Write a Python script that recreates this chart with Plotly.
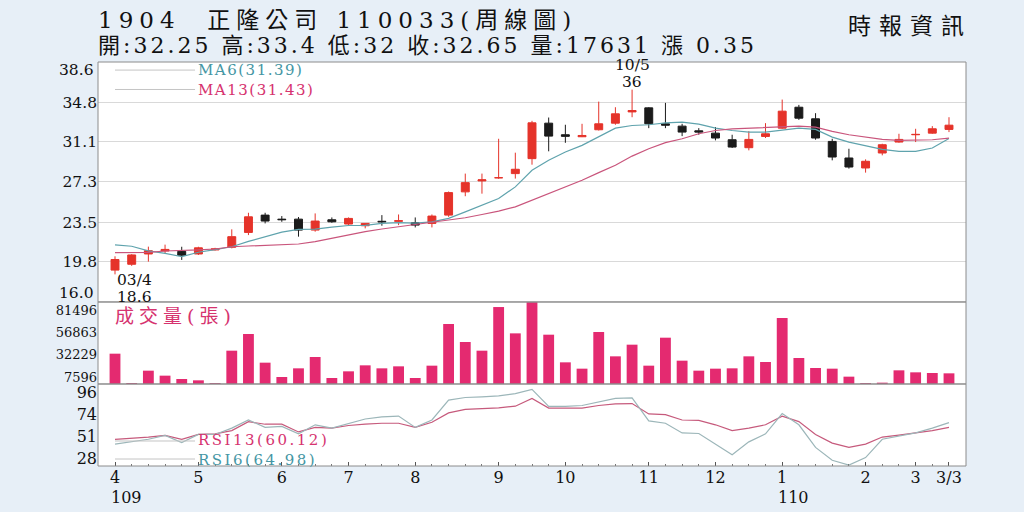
import plotly.graph_objects as go

# weekly candles, 109/03 .. 110/03/03 (index = week number)
week = list(range(51))

opens = [19.0, 19.55, 20.52, 20.8, 20.77, 20.52, 20.9, 21.15, 22.55, 24.18,
         23.8, 23.8, 22.77, 23.74, 23.34, 23.18, 23.6, 23.6, 23.46, 23.4,
         24.18, 26.37, 27.4, 27.7, 28.09, 29.5, 32.84, 31.75, 31.56, 32.22,
         32.84, 33.9, 34.28, 32.78, 32.56, 32.12, 31.9, 31.28, 30.53, 31.59,
         32.37, 34.34, 33.25, 31.12, 29.56, 28.62, 30.03, 31.06, 31.75, 31.9,
         32.25]
highs = [20.3, 20.5, 21.21, 21.4, 21.2, 21.2, 21.1, 22.84, 24.4, 24.4,
         24.09, 24.0, 24.34, 23.96, 23.96, 23.4, 24.18, 24.24, 23.96, 24.24,
         26.4, 28.09, 28.09, 31.37, 30.06, 33.06, 33.37, 32.69, 32.78, 34.87,
         34.34, 36.0, 34.34, 34.75, 32.78, 32.37, 32.47, 31.75, 32.09, 32.84,
         35.06, 34.56, 33.78, 31.37, 30.43, 29.43, 30.9, 31.84, 32.31, 32.56,
         33.4]
lows = [18.6, 19.4, 19.8, 20.6, 19.96, 20.43, 20.85, 21.05, 22.3, 23.4,
        23.55, 22.15, 22.62, 23.46, 23.15, 22.93, 23.18, 23.24, 23.02, 23.02,
        24.02, 25.96, 26.2, 27.6, 27.62, 28.93, 30.19, 30.99, 31.53, 32.15,
        32.69, 33.4, 32.37, 32.37, 31.62, 31.75, 31.22, 30.5, 30.28, 31.44,
        32.31, 33.15, 31.28, 29.34, 28.56, 28.18, 29.81, 31.0, 31.06, 31.84,
        32.0]
closes = [20.0, 20.43, 20.83, 20.95, 20.4, 21.1, 21.0, 22.15, 24.02, 23.62,
          23.75, 22.77, 23.62, 23.55, 23.87, 23.4, 23.55, 23.65, 23.24, 24.09,
          26.3, 27.24, 27.5, 27.7, 28.5, 32.87, 31.62, 31.6, 31.68, 32.78,
          33.72, 34.03, 32.78, 32.65, 32.0, 32.0, 31.44, 30.59, 31.31, 31.84,
          33.97, 33.31, 31.44, 29.65, 28.71, 29.25, 30.81, 31.31, 31.78, 32.31,
          32.65]

ma6 = [21.37, 21.25, 20.82, 20.58, 20.27, 20.68, 20.93, 21.2, 21.7, 22.15,
       22.57, 22.84, 22.86, 23.05, 23.2, 23.22, 23.4, 23.48, 23.42, 23.55,
       23.87, 24.49, 25.12, 25.74, 26.84, 28.4, 29.34, 30.12, 30.75, 31.53,
       32.37, 32.62, 32.69, 32.87, 32.94, 32.75, 32.37, 32.15, 32.0, 32.0,
       32.15, 32.37, 32.25, 31.53, 31.06, 30.75, 30.37, 30.18, 30.18, 30.5,
       31.39]
ma13 = [20.65, 20.66, 20.68, 20.8, 20.82, 20.9, 20.99, 21.2, 21.27, 21.33,
        21.4, 21.46, 21.68, 21.99, 22.37, 22.62, 22.87, 23.08, 23.24, 23.5,
        23.71, 23.93, 24.24, 24.56, 24.96, 25.59, 26.21, 26.84, 27.46, 28.18,
        28.87, 29.74, 30.43, 31.0, 31.37, 31.84, 32.15, 32.31, 32.37, 32.37,
        32.47, 32.56, 32.47, 32.06, 31.75, 31.53, 31.31, 31.22, 31.22, 31.28,
        31.43]

volume = [33488, 1104, 14720, 9200, 5520, 4048, 736, 36800, 55200, 23552,
          7728, 17296, 29808, 6624, 13984, 20608, 17296, 19504, 6624, 20240,
          66240, 46368, 36800, 85008, 55936, 90528, 54464, 23920, 16928, 57408,
          30544, 43424, 20240, 51152, 25760, 14720, 16928, 17296, 30544, 24288,
          72864, 28704, 17664, 16928, 8096, 1104, 1472, 15088, 12880, 12144,
          11776]

rsi6 = [42.7, 45, 47.7, 51.7, 44.3, 52.7, 52.7, 59.3, 67.7, 60,
        61, 53.3, 62.7, 59.3, 64.3, 68.7, 71, 71.7, 60, 67.7,
        88.3, 91, 91.7, 92.7, 95, 99.5, 81.7, 81.7, 82.7, 86.7,
        90, 90.7, 66.7, 64.3, 54.3, 53.7, 42.7, 31.7, 45, 53.3,
        74.3, 62.7, 39.3, 26, 21, 28.7, 47.7, 51, 54.3, 59.3,
        64.98]
rsi13 = [47.7, 48.7, 50, 51.7, 47.7, 52.7, 53.3, 56.7, 66, 63.3,
         63.3, 55.3, 60, 59.3, 62, 63.3, 64.3, 64.3, 60, 65.3,
         75, 78.7, 79.3, 80.3, 82, 90, 80, 80, 80, 82.7,
         84.3, 84.7, 74, 73.3, 67.7, 67.3, 62.7, 56.7, 59.3, 62.7,
         71.7, 66, 52.7, 43.7, 39.3, 42.7, 50, 52, 54.3, 56.7,
         60.12]

month_pos = [0, 5, 10, 14, 18, 23, 27, 32, 36, 40, 45, 48, 50]
month_text = ["4", "5", "6", "7", "8", "9", "10", "11", "12", "1", "2", "3", "3/3"]
year_pos = [0, 40]
year_text = ["109", "110"]

price_ticks = [16.0, 19.8, 23.5, 27.3, 31.1, 34.8, 38.6]
vol_ticks = [7596, 32229, 56863, 81496]
rsi_ticks = [28, 51, 74, 96]

RED = "#e5332a"
BLACK = "#1b1b1b"
VOL = "#e42a70"
MA6_C = "#5fa3ad"
MA13_C = "#c9557c"
PINK_TXT = "#d6336f"
TEAL_TXT = "#4596a4"
BG = "#e7eff7"
FRAME = "#8c8c8c"
SERIF = "DejaVu Serif, Noto Sans CJK TC, serif"

fig = go.Figure()

fig.add_trace(go.Candlestick(
    x=week, open=opens, high=highs, low=lows, close=closes,
    increasing=dict(line=dict(color=RED, width=1), fillcolor=RED),
    decreasing=dict(line=dict(color=BLACK, width=1), fillcolor=BLACK),
    whiskerwidth=0, yaxis="y", hoverinfo="skip"))

fig.add_trace(go.Scatter(x=week, y=ma6, mode="lines",
                         line=dict(color=MA6_C, width=1.2), yaxis="y"))
fig.add_trace(go.Scatter(x=week, y=ma13, mode="lines",
                         line=dict(color=MA13_C, width=1.2), yaxis="y"))

fig.add_trace(go.Bar(x=week, y=volume, marker_color=VOL,
                     marker_line_width=0, yaxis="y2"))

fig.add_trace(go.Scatter(x=week, y=rsi13, mode="lines",
                         line=dict(color="#c65a7c", width=1.2), yaxis="y3"))
fig.add_trace(go.Scatter(x=week, y=rsi6, mode="lines",
                         line=dict(color="#9cb6b9", width=1.2), yaxis="y3"))

# price labels at the panel edges are drawn as annotations (shifted inward)
price_text = [("" if v in (price_ticks[0], price_ticks[-1]) else f"{v:.1f}")
              for v in price_ticks]

fig.update_layout(
    width=1024, height=512,
    margin=dict(l=98, r=58, t=62, b=46),
    paper_bgcolor=BG, plot_bgcolor="white",
    showlegend=False, bargap=0.35, boxgap=0.32,
    font=dict(family=SERIF, color="#111111"),
    xaxis=dict(range=[-1.02, 51.02], anchor="y3",
               tickmode="array", tickvals=month_pos, ticktext=month_text,
               ticks="inside", ticklen=4, tickcolor="#555555",
               minor=dict(dtick=1, tick0=0, ticks="inside", ticklen=2,
                          tickcolor="#777777", showgrid=False),
               showgrid=False, zeroline=False, showline=False,
               tickfont=dict(size=16, family=SERIF, color="#111111"),
               rangeslider=dict(visible=False)),
    yaxis=dict(domain=[0.406, 1], range=[16.0, 38.6],
               tickmode="array", tickvals=price_ticks, ticktext=price_text,
               showgrid=True, gridcolor="#d9d9d9", gridwidth=1,
               zeroline=False, ticks="",
               tickfont=dict(size=15.5, family=SERIF, color="#111111")),
    yaxis2=dict(domain=[0.203, 0.406], range=[0, 90600], anchor="x",
                tickmode="array", tickvals=vol_ticks,
                ticktext=[str(v) for v in vol_ticks],
                showgrid=False, zeroline=False, ticks="",
                tickfont=dict(size=13, family=SERIF, color="#111111")),
    yaxis3=dict(domain=[0, 0.203], range=[20, 105], anchor="x",
                tickmode="array", tickvals=rsi_ticks,
                ticktext=[str(v) for v in rsi_ticks],
                showgrid=False, zeroline=False, ticks="",
                tickfont=dict(size=16, family=SERIF, color="#111111")),
)

# panel frames
shapes = []
for ax in ["y", "y2", "y3"]:
    shapes.append(dict(type="rect", xref="x domain", yref=ax + " domain",
                       x0=0, x1=1, y0=0, y1=1,
                       line=dict(color=FRAME, width=1), layer="above"))
# legend stubs
for yy in [0.980, 0.932, 0.0619, 0.0173]:
    shapes.append(dict(type="line", xref="paper", yref="paper",
                       x0=0.0196, x1=0.1118, y0=yy, y1=yy,
                       line=dict(color="#c4c4c4", width=1)))
fig.update_layout(shapes=shapes)

ann = []
ann.append(dict(xref="paper", yref="paper", x=-0.002, y=1.104,
                xanchor="left", yanchor="middle", showarrow=False,
                text='<span style="letter-spacing:6px">1904\u00a0\u00a0正隆公司 110033(周線圖)</span>',
                font=dict(size=23, family=SERIF, color="#111111")))
ann.append(dict(xref="paper", yref="paper", x=-0.002, y=1.040,
                xanchor="left", yanchor="middle", showarrow=False,
                text='<span style="letter-spacing:3px">開:32.25 高:33.4 低:32 收:32.65 量:17631 漲 0.35</span>',
                font=dict(size=22, family=SERIF, color="#111111")))
ann.append(dict(xref="paper", yref="paper", x=1.0, y=1.089,
                xanchor="right", yanchor="middle", showarrow=False, xshift=8,
                text='<span style="letter-spacing:8px">時報資訊</span>',
                font=dict(size=23, family=SERIF, color="#111111")))

# moving-average legend (two coloured lines in one text block)
ann.append(dict(xref="paper", yref="paper", x=0.113, y=0.956,
                xanchor="left", yanchor="middle", align="left", showarrow=False,
                text=(f'<span style="letter-spacing:1.5px;color:{TEAL_TXT}">MA6(31.39)</span><br>'
                      f'<span style="letter-spacing:1.5px;color:{PINK_TXT}">MA13(31.43)</span>'),
                font=dict(size=15, family=SERIF, color=TEAL_TXT)))
ann.append(dict(xref="paper", yref="paper", x=0.113, y=0.0396,
                xanchor="left", yanchor="middle", align="left", showarrow=False,
                text=(f'<span style="letter-spacing:2.5px;color:{PINK_TXT}">RSI13(60.12)</span><br>'
                      f'<span style="letter-spacing:2.5px;color:{TEAL_TXT}">RSI6(64.98)</span>'),
                font=dict(size=15, family=SERIF, color=PINK_TXT)))
ann.append(dict(xref="paper", yref="paper", x=0.017, y=0.371,
                xanchor="left", yanchor="middle", showarrow=False,
                text='<span style="letter-spacing:5px">成交量(張)</span>',
                font=dict(size=19, family=SERIF, color=PINK_TXT)))

# edge price labels
ann.append(dict(xref="paper", yref="paper", x=0, y=0.980, xshift=-2,
                xanchor="right", yanchor="middle", showarrow=False,
                text=f"{price_ticks[-1]:.1f}",
                font=dict(size=15.5, family=SERIF, color="#111111")))
ann.append(dict(xref="paper", yref="paper", x=0, y=0.428, xshift=-2,
                xanchor="right", yanchor="middle", showarrow=False,
                text=f"{price_ticks[0]:.1f}",
                font=dict(size=15.5, family=SERIF, color="#111111")))

# low / high markers
lo_i = lows.index(min(lows))
hi_i = highs.index(max(highs))
ann.append(dict(xref="x", yref="y", x=week[lo_i], y=lows[lo_i], yshift=-6,
                xanchor="left", yanchor="middle", showarrow=False,
                text="03/4", font=dict(size=15.5, family=SERIF, color="#111111")))
ann.append(dict(xref="x", yref="y", x=week[lo_i], y=lows[lo_i], yshift=-23,
                xanchor="left", yanchor="middle", showarrow=False,
                text=f"{lows[lo_i]}", font=dict(size=15.5, family=SERIF, color="#111111")))
ann.append(dict(xref="x", yref="y", x=week[hi_i], y=highs[hi_i], yshift=25,
                xanchor="center", yanchor="middle", showarrow=False,
                text="10/5", font=dict(size=15.5, family=SERIF, color="#111111")))
ann.append(dict(xref="x", yref="y", x=week[hi_i], y=highs[hi_i], yshift=8,
                xanchor="center", yanchor="middle", showarrow=False,
                text=f"{highs[hi_i]:g}", font=dict(size=15.5, family=SERIF, color="#111111")))

# year markers under month ticks
for p, t in zip(year_pos, year_text):
    ann.append(dict(xref="x", yref="paper", x=p, y=-0.0792, xshift=-6,
                    xanchor="left", yanchor="middle", showarrow=False,
                    text=t, font=dict(size=16, family=SERIF, color="#111111")))

fig.update_layout(annotations=ann)

fig.write_html("out.html", config={"displayModeBar": False},
               post_script="document.body.style.margin='0';")
